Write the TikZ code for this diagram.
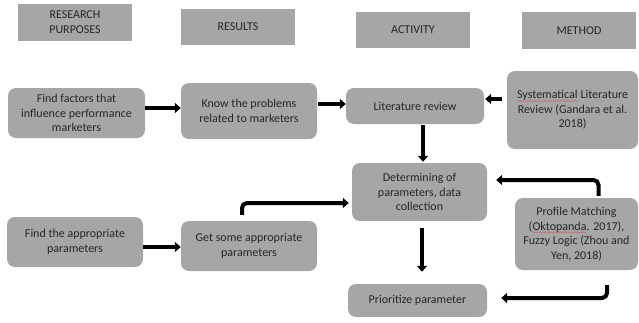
\documentclass[tikz,border=0pt]{standalone}
\usepackage{fontspec}
\setmainfont{Carlito}
\usetikzlibrary{arrows.meta,calc,decorations.pathmorphing}
\definecolor{boxgray}{HTML}{A6A6A6}
\definecolor{txtgray}{HTML}{262626}
\definecolor{spellred}{HTML}{E05060}
\newcommand\spellwave[1]{\tikz[baseline=(swnode.base),sharp corners,x=1pt,y=1pt]{\node[inner sep=0pt,outer sep=0pt,minimum width=0pt,minimum height=0pt,fill=none,draw=none,sharp corners,align=center,anchor=base] (swnode) at (0,0) {#1}; \draw[spellred,line width=0.4pt,sharp corners,decorate,decoration={snake,amplitude=0.5pt,segment length=2.5pt}] ([yshift=-2.2pt]swnode.base west) -- ([yshift=-2.2pt]swnode.base east);}}
\begin{document}
\begin{tikzpicture}[x=1pt,y=-1pt,
  hdr/.style={fill=boxgray, minimum width=114pt, minimum height=36pt, inner sep=2pt, align=center, text=txtgray, font=\fontsize{12}{15}\selectfont},
  box/.style={fill=boxgray, rounded corners=8pt, align=center, text=txtgray, font=\fontsize{12}{14.5}\selectfont, inner sep=2pt},
  arr/.style={draw=black, line width=4pt, -{Triangle[width=10pt,length=6pt]}, rounded corners=5pt}]
\useasboundingbox (0,0) rectangle (639,322);
% headers
\node[hdr, minimum height=37pt] (h1) at (75,22.5) {RESEARCH\\PURPOSES};
\node[hdr] (h2) at (238,27) {RESULTS};
\node[hdr] (h3) at (413,30) {ACTIVITY};
\node[hdr, minimum height=37pt] (h4) at (579,30.5) {METHOD};
% boxes
\node[box, minimum width=137pt, minimum height=50pt] (a1) at (76.5,113) {Find factors that\\influence performance\\marketers};
\node[box, minimum width=136pt, minimum height=56pt] (b1) at (249,111) {Know the problems\\related to marketers};
\node[box, minimum width=138pt, minimum height=36pt] (c1) at (415,106) {Literature review};
\node[box, minimum width=131pt, minimum height=78pt] (d1) at (572.5,110) {\spellwave{Systematical} Literature\\Review (Gandara et al.\\2018)};
\node[box, minimum width=135pt, minimum height=58pt] (c2) at (419.5,192) {Determining of\\parameters, data\\collection};
\node[box, minimum width=123pt, minimum height=72pt] (d2) at (576.5,234) {Profile Matching\\(\spellwave{Oktopanda}. 2017),\\Fuzzy Logic (Zhou and\\Yen, 2018)};
\node[box, minimum width=136pt, minimum height=50pt] (a2) at (75,242) {Find the appropriate\\parameters};
\node[box, minimum width=136pt, minimum height=50pt] (b2) at (249,246) {Get some appropriate\\parameters};
\node[box, minimum width=139pt, minimum height=33pt] (c3) at (417.5,300.5) {Prioritize parameter};
% connectors
\draw[arr] ($(a1.east)+(0,-5)$) -- ($(b1.west)+(0,-3)$);
\draw[arr] ($(b1.east)+(1,-7)$) -- ($(c1.west)+(0,-2)$);
\draw[arr] ($(d1.west)+(-5,-11)$) -- ($(c1.east)+(1,-7)$);
\draw[arr] ($(c1.south)+(8,1)$) -- ($(c2.north)+(3.5,-1)$);
\draw[arr] ($(b2.north)+(-7,-6)$) |- ($(c2.west)+(-3,11)$);
\draw[arr] ($(d2.north)+(22,-2)$) |- ($(c2.east)+(9,-12)$);
\draw[arr] ($(c2.south)+(2.5,7)$) -- ($(c3.north)+(4.5,-12)$);
\draw[arr] ($(d2.south)+(30.5,15)$) |- ($(c3.east)+(14,-2.5)$);
\draw[arr] ($(a2.east)+(0,5)$) -- ($(b2.west)+(0,1)$);
\end{tikzpicture}
\end{document}
